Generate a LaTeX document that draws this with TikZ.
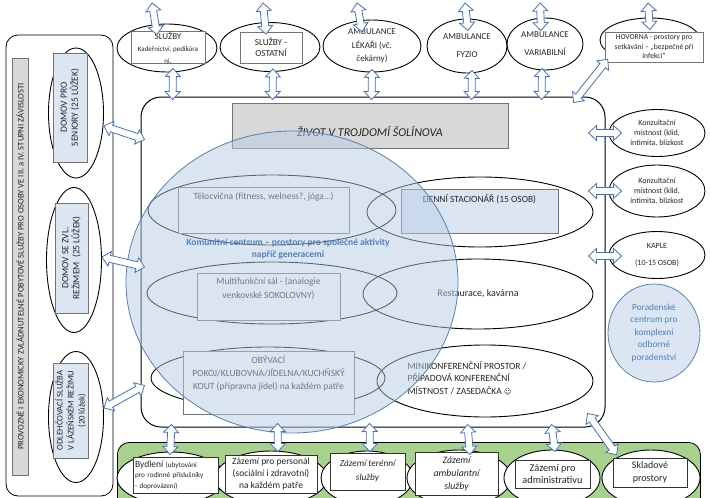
\documentclass[tikz,border=0pt]{standalone}
\usepackage{fontspec}
\setmainfont{Carlito}
\newfontfamily\symfont{DejaVu Sans}
\usetikzlibrary{calc,shapes.geometric,positioning}

\definecolor{boxgray}{RGB}{216,216,216}
\definecolor{paleblue}{RGB}{220,230,242}
\definecolor{circfill}{RGB}{185,205,229}
\definecolor{ringblue}{RGB}{84,130,180}
\definecolor{textblue}{RGB}{79,129,189}
\definecolor{arrblue}{RGB}{68,114,196}
\definecolor{leafgreen}{RGB}{169,209,142}

\tikzset{
  oval/.style={draw,ellipse,inner sep=0pt,line width=0.9pt,align=center},
  plainbox/.style={draw=black!55,fill=white,inner sep=1pt,line width=0.6pt,align=center},
  bluebox/.style={plainbox,fill=paleblue},
  biarr/.style={draw=arrblue,fill=white,line width=0.8pt,line join=miter},
  txt/.style={font=\fontsize{9.5}{13}\selectfont},
  smalltxt/.style={font=\fontsize{8}{10}\selectfont}
}

% hollow two-headed block arrow from #1 to #2
\newcommand\biarrow[2]{%
  \draw[biarr] let \p1=(#1), \p2=(#2),
    \n1={atan2(\y2-\y1,\x2-\x1)}, \n2={veclen(\x2-\x1,\y2-\y1)} in
    [shift={(\p1)}, rotate=\n1]
    (0pt,0pt) -- (8pt,7.5pt) -- (8pt,3.5pt) -- (\n2-8pt,3.5pt) -- (\n2-8pt,7.5pt)
    -- (\n2,0pt) -- (\n2-8pt,-7.5pt) -- (\n2-8pt,-3.5pt) -- (8pt,-3.5pt)
    -- (8pt,-7.5pt) -- cycle;}

\begin{document}
\begin{tikzpicture}[x=1pt,y=-1pt,text=black!85]
\useasboundingbox (0,0) rectangle (710,498);
\clip (0,0) rectangle (710,498);

% left column
\node (pobyt) [draw, rounded corners=12, minimum width=107, minimum height=461, line width=0.8pt] at (59.5,265.5) {};
\node (level) [draw=black!55, fill=boxgray, rotate=90, minimum width=417, minimum height=16, inner sep=0pt, font=\fontsize{8.6}{10}\selectfont] at (20,266.5)
  {PROVOZNĚ I EKONOMICKY ZVLÁDNUTELNÉ POBYTOVÉ SLUŽBY PRO OSOBY VE III. a IV. STUPNI ZÁVISLOSTI};
\node (seni) [oval, minimum width=55, minimum height=130] at (76,113) {};
\node (zvl) [oval, minimum width=55, minimum height=145] at (74,260) {};
\node (odl) [oval, minimum width=55, minimum height=131] at (76,417) {};
\node (senibox) [bluebox, rotate=90, minimum width=109, minimum height=34, inner sep=0pt, font=\fontsize{9.5}{11}\selectfont] at (70,107.5) {DOMOV PRO\\SENIORY (25 LŮŽEK)};
\node (zvlbox) [bluebox, rotate=90, minimum width=110, minimum height=33, inner sep=0pt, font=\fontsize{9.5}{11}\selectfont] at (71.5,258) {DOMOV SE ZVL.\\REŽIMEM\ \ (25 LŮŽEK)};
\node (odlbox) [bluebox, rotate=90, minimum width=95, minimum height=35, inner sep=0pt, font=\fontsize{8.7}{11}\selectfont] at (70.5,410.5)
  {ODLEHČOVACÍ SLUŽBA\\V LÁZEŇSKÉM REŽIMU\\(20 lůžek)};

% main building
\node (main) [draw, fill=white, rounded corners=20, minimum width=464, minimum height=330, line width=1pt] at (373,262) {};
\node (title) [draw=black!55, fill=boxgray, minimum width=276, minimum height=45] at (370,125.5) {};
\node (titletxt) [font=\fontsize{12}{14}\selectfont\itshape] at ($(title.center)+(0,6.5)$) {ŽIVOT V TROJDOMÍ ŠOLÍNOVA};

\node (tel) [oval, minimum width=248, minimum height=70] at (272,210) {};
\node (den) [oval, minimum width=226, minimum height=70] at (480,212) {};
\node (mul) [oval, minimum width=250, minimum height=62] at (272,293) {};
\node (res) [oval, minimum width=230, minimum height=70, font=\fontsize{10}{13}\selectfont] at (478,294) {Restaurace, kavárna};
\node (oby) [oval, minimum width=234, minimum height=62] at (268,378) {};
\node (kon) [oval, minimum width=216, minimum height=72] at (485,381) {};
\node (kontxt) [txt, align=left, font=\fontsize{9.5}{12.5}\selectfont] at ($(kon.center)+(-18,-3)$)
  {MINIKONFERENČNÍ PROSTOR /\\PŘÍPADOVÁ KONFERENČNÍ\\MÍSTNOST / ZASEDAČKA {\symfont\fontsize{7}{8}\selectfont ☺}};

\node (telbox) [plainbox, minimum width=171, minimum height=46,
  label={[txt,anchor=north,yshift=-2]north:Tělocvična (fitness, welness?, jóga…)}] at (263.5,210) {};
\node (denbox) [bluebox, minimum width=157, minimum height=44,
  label={[txt,anchor=north,yshift=-2]north:DENNÍ STACIONÁŘ (15 OSOB)}] at (479.5,211) {};
\node (mulbox) [plainbox, minimum width=143, minimum height=47,
  label={[align=center,anchor=north,yshift=-1,font=\fontsize{9.5}{14}\selectfont]north:Multifunkční sál - (analogie\\venkovské SOKOLOVNY)}] at (268.5,296.5) {};
\node (obybox) [plainbox, minimum width=171, minimum height=63,
  label={[txt,align=center,anchor=north,yshift=-1]north:OBÝVACÍ\\POKOJ/KLUBOVNA/JÍDELNA/KUCHŇSKÝ\\KOUT (přípravna jídel) na každém patře}] at (268.5,382.5) {};

% community centre
\node (komu) [ellipse, draw=ringblue, fill=circfill, fill opacity=0.5, line width=0.8pt, minimum width=332, minimum height=302] at (292,282) {};
\node (komutxt) [text=textblue, align=center, font=\fontsize{9.5}{12}\selectfont\bfseries] at (288,249)
  {Komunitní centrum – prostory pro společné aktivity\\napříč generacemi};

% right side
\node (kon1) [oval, minimum width=96, minimum height=47, smalltxt] at (657,133) {Konzultační\\místnost (klid,\\intimita, blízkost};
\node (kon2) [oval, minimum width=96, minimum height=52, smalltxt] at (657,191) {Konzultační\\místnost (klid,\\intimita, blízkost};
\node (kaple) [oval, minimum width=96, minimum height=47, smalltxt] at (657,255) {KAPLE\\[7pt](10-15 OSOB)};
\node (porad) [ellipse, draw=ringblue, fill=paleblue, line width=0.8pt, minimum width=92, minimum height=98, inner sep=0pt,
  text=textblue, align=center, font=\fontsize{9.3}{12.5}\selectfont] at (654,333)
  {Poradenské\\centrum pro\\komplexní\\odborné\\poradenství};

% top row
\node (slu) [oval, minimum width=100, minimum height=48] at (167,48) {};
\node (slubox) [plainbox, minimum width=74, minimum height=31, inner sep=0pt] at (168,47.5)
  {{\fontsize{9}{10}\selectfont SLUŽBY}\\{\fontsize{7}{9}\selectfont Kadeřnictví, pedikúra}\\{\fontsize{7}{8}\selectfont ni.}};
\node (ost) [oval, minimum width=100, minimum height=49] at (270,47) {};
\node (ostbox) [plainbox, minimum width=62, minimum height=31, font=\fontsize{9.2}{11}\selectfont] at (271,47.5) {SLUŽBY -\\OSTATNÍ};
\node (lek) [oval, minimum width=98, minimum height=52, font=\fontsize{9}{13.5}\selectfont] at (372,46) {AMBULANCE\\LÉKAŘI (vč.\\čekárny)};
\node (fyz) [oval, minimum width=80, minimum height=54, font=\fontsize{9}{11}\selectfont] at (467,46) {AMBULANCE\\[7pt]FYZIO};
\node (var) [oval, minimum width=76, minimum height=52, font=\fontsize{9}{11}\selectfont] at (545,44) {AMBULANCE\\[7pt]VARIABILNÍ};
\node (hov) [oval, minimum width=100, minimum height=44] at (650,40) {};
\node (hovbox) [plainbox, minimum width=98, minimum height=30, inner sep=0pt, font=\fontsize{7.6}{9.5}\selectfont] at (654,47)
  {HOVORNA - prostory pro\\setkávání – „bezpečné při\\infekci“};

% bottom row
\node (zazemi) [draw, fill=leafgreen, rounded corners=12, minimum width=583, minimum height=80, line width=0.8pt, anchor=north west] at (117,442) {};
\node (byd) [oval, fill=white, minimum width=108, minimum height=52] at (171,478) {};
\node (per) [oval, fill=white, minimum width=112, minimum height=54] at (271,478) {};
\node (ter) [oval, fill=white, minimum width=92, minimum height=54] at (367,478) {};
\node (amb) [oval, fill=white, minimum width=104, minimum height=56] at (459,478) {};
\node (adm) [oval, fill=white, minimum width=96, minimum height=56] at (552,478) {};
\node (skl) [oval, fill=white, minimum width=98, minimum height=56] at (651,478) {};
\node (bydbox) [plainbox, draw=black!80, minimum width=85, minimum height=36, inner sep=2pt, text width=81, align=left, font=\fontsize{7.2}{10.5}\selectfont] at (175.5,475)
  {{\fontsize{9.5}{10}\selectfont Bydlení} (ubytování\\pro rodinné příslušníky\\- doprovázení)};
\node (perbox) [plainbox, draw=black!80, minimum width=92, minimum height=38, inner sep=0pt, font=\fontsize{9.5}{12}\selectfont] at (271,474)
  {Zázemí pro personál\\(sociální i zdravotní)\\na každém patře};
\node (terbox) [plainbox, draw=black!80, minimum width=75, minimum height=37, font=\fontsize{9.3}{14}\selectfont\itshape] at (367.5,471.5)
  {Zázemí terénní\\služby};
\node (ambbox) [plainbox, draw=black!80, minimum width=83, minimum height=43, font=\fontsize{9.8}{13}\selectfont\itshape] at (456.5,473.5)
  {Zázemí\\ambulantní\\služby};
\node (admbox) [plainbox, draw=black!80, minimum width=75, minimum height=28, inner sep=0pt, font=\fontsize{10.3}{12.5}\selectfont] at (552.5,474)
  {Zázemí pro\\administrativu};
\node (sklbox) [plainbox, draw=black!80, minimum width=74, minimum height=29, font=\fontsize{10}{13}\selectfont] at (650,472.5)
  {Skladové\\prostory};

% free ends at the top edge
\coordinate (sluup) at (152,3);
\coordinate (ostup) at (263,3);
\coordinate (lekup) at (357,3);
\coordinate (fyzup) at (465,3);
\coordinate (varup) at (540,3);
\coordinate (hovup) at (648,3);

% arrows, top
\biarrow{sluup}{$(slu.north)+(-10,11)$}
\biarrow{$(slu.south)+(6,-4)$}{$(main.north west)+(32,3)$}
\biarrow{ostup}{$(ost.north)+(-4,12)$}
\biarrow{$(ost.south)+(3,-3)$}{$(main.north west)+(132,3)$}
\biarrow{lekup}{$(lek.north)+(-10,12)$}
\biarrow{$(lek.south)+(0,-3)$}{$(main.north west)+(231,3)$}
\biarrow{fyzup}{$(fyz.north)+(1,12)$}
\biarrow{$(fyz.south)+(5,-3)$}{$(main.north west)+(331,3)$}
\biarrow{varup}{$(var.north)+(-4,13)$}
\biarrow{$(var.south)+(-3,-2)$}{$(main.north west)+(401,3)$}
\biarrow{hovup}{$(hov.north)+(0,12)$}
\biarrow{$(hovbox.south west)+(3,-3)$}{$(main.north east)+(-32,6)$}

% arrows, left
\biarrow{$(seni.east)+(0,13)$}{$(main.north west)+(4,43)$}
\biarrow{$(zvl.east)+(0,-3)$}{$(main.west)+(4,5)$}
\biarrow{$(odl.east)+(0,-9)$}{$(main.south west)+(4,-42)$}

% arrows, right
\biarrow{$(main.east |- kon1.west)+(-17,0)$}{$(kon1.west)+(13,0)$}
\biarrow{$(main.east |- kon2.west)+(-17,0)$}{$(kon2.west)+(13,0)$}
\biarrow{$(main.east |- kaple.west)+(-17,1)$}{$(kaple.west)+(13,1)$}

% arrows, bottom
\biarrow{$(main.south west)+(31,-3)$}{$(byd.north)+(-1,3)$}
\biarrow{$(main.south west)+(137,-4)$}{$(per.north)+(7,1)$}
\biarrow{$(main.south west)+(229,-4)$}{$(ter.north)+(3,1)$}
\biarrow{$(main.south west)+(327,-3)$}{$(amb.north)+(11,5)$}
\biarrow{$(main.south west)+(411,-3)$}{$(adm.north)+(3,2)$}
\biarrow{$(main.south east)+(-18,-14)$}{$(sklbox.north west)+(4,-3)$}
\end{tikzpicture}
\end{document}
